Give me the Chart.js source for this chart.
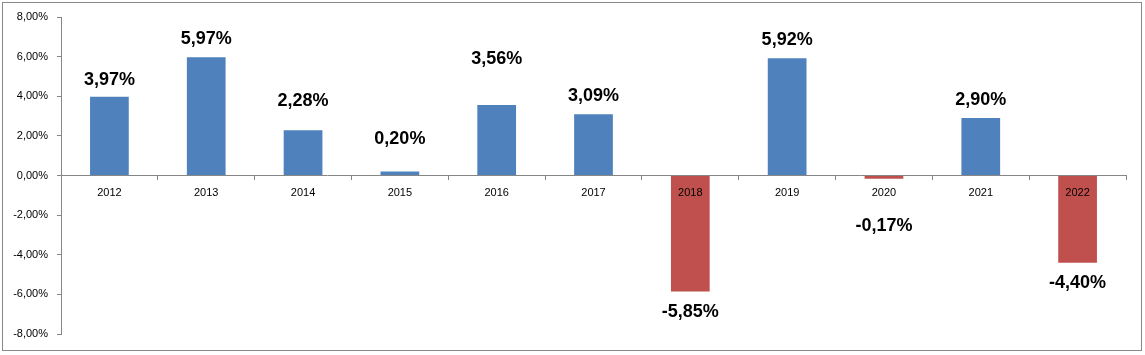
<!DOCTYPE html>
<html>
<head>
<meta charset="utf-8">
<script src="https://cdn.jsdelivr.net/npm/chart.js@4/dist/chart.umd.min.js"></script>
<style>
html,body{margin:0;padding:0;background:#fff;}
#wrap{position:relative;width:1145px;height:355px;overflow:hidden;}
#c{position:absolute;left:0;top:0;}
#frame{position:absolute;left:2px;top:2px;width:1140px;height:349px;box-sizing:border-box;border:1px solid #888;pointer-events:none;}
</style>
</head>
<body>
<div id="wrap">
<canvas id="c" width="1145" height="355"></canvas>
<div id="frame"></div>
</div>
<script>
// Data
const years = ['2012','2013','2014','2015','2016','2017','2018','2019','2020','2021','2022'];
const returns = [3.97, 5.97, 2.28, 0.20, 3.56, 3.09, -5.85, 5.92, -0.17, 2.90, -4.40];
const yTicks = [-8, -6, -4, -2, 0, 2, 4, 6, 8];

// Label distance (px) from bar end to label centre, as placed in the reference
const labelGap = [17, 18, 29, 33, 46, 18, 21, 18, 47, 18, 20];

const BLUE = '#4F81BD';
const RED = '#C0504D';
const AXIS = '#868686';

function fmt(v){ return v.toFixed(2).replace('.', ',') + '%'; }

const labelPlugin = {
  id: 'valueLabels',
  afterDraw(chart){
    const ctx = chart.ctx;
    const meta = chart.getDatasetMeta(0);
    ctx.save();
    ctx.font = 'bold 18px "Liberation Sans", Arial, sans-serif';
    ctx.fillStyle = '#000';
    ctx.textAlign = 'center';
    ctx.textBaseline = 'middle';
    meta.data.forEach((el, i) => {
      const v = returns[i];
      const y = v >= 0 ? el.y - labelGap[i] : el.y + labelGap[i];
      ctx.fillText(fmt(v), el.x, y);
    });
    ctx.restore();
  }
};

new Chart(document.getElementById('c'), {
  type: 'bar',
  data: {
    labels: years,
    datasets: [{
      data: returns,
      backgroundColor: returns.map(v => v < 0 ? RED : BLUE),
      borderWidth: 0,
      barPercentage: 0.4,
      categoryPercentage: 1.0
    }]
  },
  options: {
    responsive: false,
    devicePixelRatio: 1,
    animation: false,
    events: [],
    layout: { padding: { left: 0, right: 19, top: 17, bottom: 21 } },
    plugins: { legend: { display: false }, tooltip: { enabled: false } },
    scales: {
      x: {
        position: { y: 0 },
        offset: true,
        grid: {
          display: true,
          offset: true,
          drawOnChartArea: false,
          drawTicks: true,
          tickLength: 4,
          color: AXIS,
          z: 1
        },
        border: { display: true, color: AXIS, width: 1, z: 1 },
        ticks: {
          z: 1,
          color: '#000',
          font: { family: '"Liberation Sans", Arial, sans-serif', size: 11 },
          padding: 7,
          maxRotation: 0,
          autoSkip: false
        }
      },
      y: {
        min: yTicks[0],
        max: yTicks[yTicks.length - 1],
        afterFit(scale){ scale.width = 61; },
        afterBuildTicks(scale){ scale.ticks = yTicks.map(v => ({ value: v })); },
        grid: {
          display: true,
          drawOnChartArea: false,
          drawTicks: true,
          tickLength: 4,
          color: AXIS
        },
        border: { display: true, color: AXIS, width: 1 },
        ticks: {
          color: '#000',
          font: { family: '"Liberation Sans", Arial, sans-serif', size: 11 },
          padding: 9,
          callback: v => fmt(v)
        }
      }
    }
  },
  plugins: [labelPlugin]
});
</script>
</body>
</html>
